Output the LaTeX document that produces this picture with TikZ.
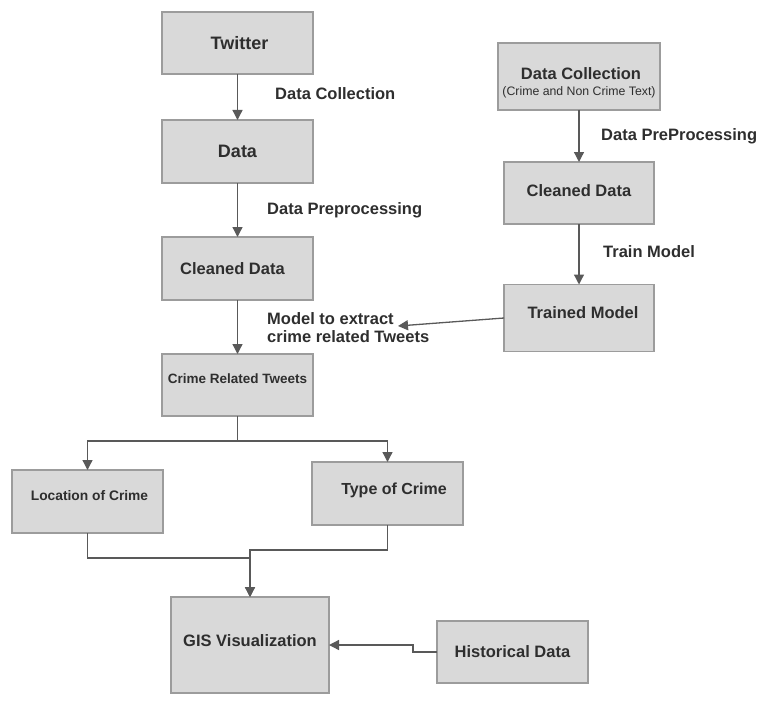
\documentclass[tikz,border=0pt]{standalone}
\usepackage{fontspec}
\setmainfont{Liberation Sans}
\usetikzlibrary{arrows.meta}
\definecolor{boxfill}{HTML}{D9D9D9}
\definecolor{boxline}{HTML}{9C9C9C}
\definecolor{conn}{HTML}{595959}
\definecolor{txt}{HTML}{2E2E2E}
\newcommand{\fsz}[1]{\fontsize{#1}{#1}\selectfont}
\tikzset{
  box/.style={draw=boxline, line width=1.6pt, fill=boxfill, inner sep=0pt, outer sep=0pt},
  lbl/.style={text=txt, font=\bfseries\fsz{16.5}, inner sep=0pt},
  edgelbl/.style={text=txt, font=\bfseries\fsz{16.5}, inner sep=0pt, anchor=west},
  arrow/.style={draw=conn, line width=1.3pt, -{Triangle[length=10pt,width=10pt]}},
  plain/.style={draw=conn, line width=1.3pt}
}
\begin{document}
\begin{tikzpicture}[x=1pt,y=-1pt]
\useasboundingbox (0,0) rectangle (770,706);
% left column
\node[box, minimum width=151pt, minimum height=62pt,
  label={[lbl, font=\bfseries\fsz{18}, xshift=2pt]center:Twitter}] (twitter) at (237.5,43) {};
\node[box, minimum width=151pt, minimum height=63pt,
  label={[lbl, font=\bfseries\fsz{18}]center:Data}] (data) at (237.5,151.5) {};
\node[box, minimum width=151pt, minimum height=63pt,
  label={[lbl, xshift=-5pt]center:Cleaned Data}] (cleaned) at (237.5,268.5) {};
\node[box, minimum width=151pt, minimum height=62pt,
  label={[lbl, font=\bfseries\fsz{13.5}, yshift=6pt]center:Crime Related Tweets}] (crt) at (237.5,385) {};
\node[box, minimum width=151pt, minimum height=63pt,
  label={[lbl, font=\bfseries\fsz{13.8}, xshift=2pt, yshift=5.5pt]center:Location of Crime}] (loc) at (87.5,501.5) {};
\node[box, minimum width=151pt, minimum height=63pt,
  label={[lbl, font=\bfseries\fsz{16}, xshift=6.5pt, yshift=3.5pt]center:Type of Crime}] (type) at (387.5,493.5) {};
\node[box, minimum width=158pt, minimum height=96pt,
  label={[lbl, yshift=4pt]center:GIS Visualization}] (gis) at (250,645) {};
\node[box, minimum width=151pt, minimum height=62pt,
  label={[lbl]center:Historical Data}] (hist) at (512.5,652) {};
% right column
\node[box, minimum width=162pt, minimum height=67pt,
  label={[lbl, xshift=2pt, yshift=2.5pt]center:Data Collection},
  label={[lbl, font=\fsz{12.3}, yshift=-15.5pt]center:(Crime and Non Crime Text)}] (dc) at (579,76.5) {};
\node[box, minimum width=150pt, minimum height=62pt,
  label={[lbl, yshift=2pt]center:Cleaned Data}] (cl2) at (579,193) {};
\node[box, minimum width=150pt, minimum height=67pt,
  label={[lbl, xshift=4pt, yshift=5pt]center:Trained Model}] (trained) at (579,318) {};
% edge labels
\node[edgelbl] (l1) at (275,94) {Data Collection};
\node[edgelbl] (l2) at (267,210) {Data Preprocessing};
\node[edgelbl] (l3) at (601,136) {Data PreProcessing};
\node[edgelbl] (l4) at (603,252) {Train Model};
\node[edgelbl, align=left, font=\bfseries\fontsize{16.5}{18}\selectfont] (l5) at (267,328) {Model to extract\\crime related Tweets};
\coordinate (mtip) at (398,326);
% connectors
\draw[arrow] (twitter) -- (data);
\draw[arrow] (data) -- (cleaned);
\draw[arrow] (cleaned) -- (crt);
\draw[arrow] (crt.south) -- ++(0,25) -| (loc.north);
\draw[arrow] (crt.south) -- ++(0,25) -| (type.north);
\draw[arrow] (loc.south) -- ++(0,25) -| (gis.north);
\draw[arrow] (type.south) -- ++(0,25) -| (gis.north);
\draw[arrow] (hist.west) -- ++(-24,0) |- (gis.east);
\draw[arrow] (dc) -- (cl2);
\draw[arrow] (cl2) -- (trained);
\draw[arrow] (trained.west) -- (mtip);
\end{tikzpicture}
\end{document}
